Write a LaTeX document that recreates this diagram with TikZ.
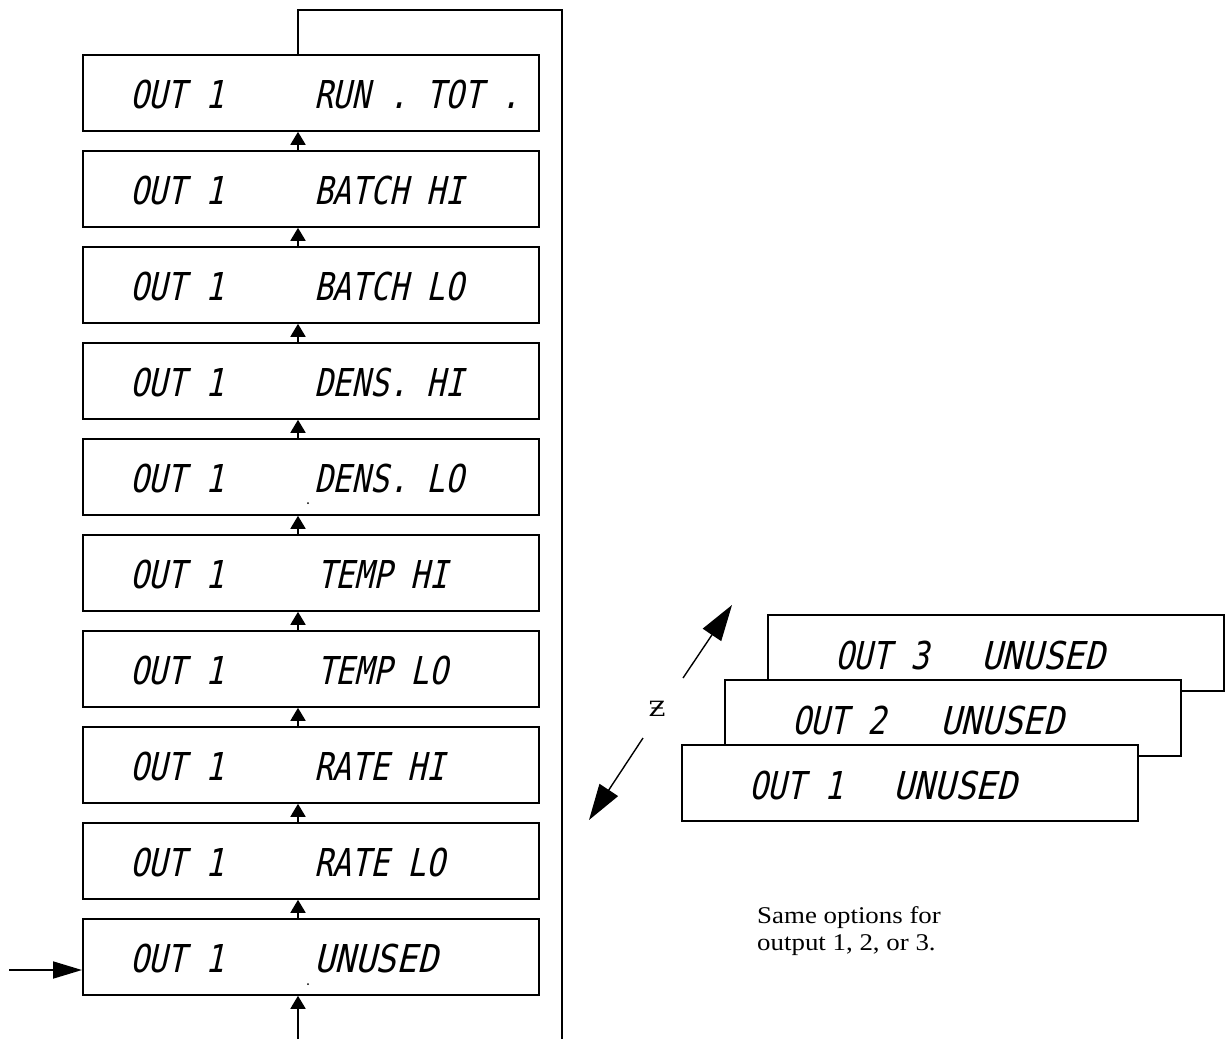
\documentclass[tikz,border=0pt]{standalone}
\usepackage{fontspec}
\setmainfont{Liberation Serif}
\newfontfamily\notefont[FakeStretch=1.12]{Liberation Serif}
\newfontfamily\lcd[FakeStretch=0.81,FakeSlant=0.22]{DejaVu Sans Mono}
\newfontfamily\zfont[FakeStretch=1.15]{DejaVu Serif}
\usetikzlibrary{arrows.meta}
\newcommand{\unusedtxt}{\scalebox{1.1}[1]{UNUSED}}
\begin{document}
\begin{tikzpicture}[x=1pt,y=-1pt,
  panel/.style={draw, line width=1.8pt, fill=white, minimum width=456pt, minimum height=76pt, inner sep=0pt, anchor=north west},
  lcdtxt/.style={anchor=base west, inner sep=0pt, font=\lcd\fontsize{38.4}{40}\selectfont},
  uparrow/.style={-{Triangle[width=15pt,length=13pt]}, line width=1.8pt},
  inarrow/.style={-{Triangle[width=17pt,length=29pt]}, line width=1.8pt},
  zarrow/.style={-{Triangle[width=22pt,length=36pt]}, line width=1.4pt},
  loopline/.style={line width=1.8pt}]
\useasboundingbox (0,0) rectangle (1225,1039);
\fill[white] (0,0) rectangle (1225,1039);

% left column of displays
\foreach \lab/\lx [count=\i from 0] in {RUN . TOT ./314,BATCH HI/314,BATCH LO/314,DENS. HI/314,DENS. LO/314,TEMP HI/317,TEMP LO/317,RATE HI/314,RATE LO/314,\unusedtxt/314} {
  \node[panel] (b\i) at (82,54+96*\i) {};
  \node[lcdtxt] (o\i) at (130,108+96*\i) {OUT 1};
  \node[lcdtxt] (l\i) at (\lx,108+96*\i) {\lab};
}

% connector coordinates
\coordinate (ax) at (298,0);
\coordinate (top) at (298,10);
\coordinate (rtop) at (562,10);
\coordinate (rbot) at (562,1039);
\coordinate (bin) at (298,1039);
\coordinate (lin) at (9,970);

\foreach \i [evaluate=\i as \j using int(\i-1)] in {1,...,9} {
  \draw[uparrow] (b\i.north -| ax) -- (b\j.south -| ax);
}
\draw[loopline] (b0.north -| ax) -- (top) -- (rtop) -- (rbot);
\draw[uparrow] (bin) -- (b9.south -| bin);
\draw[inarrow] (lin) -- (lin -| b9.west);

% tiny marks
\fill (308,503) circle (1pt);
\fill (308,984) circle (1pt);

% stacked displays
\node[panel] (s3) at (767,614) {};
\node[lcdtxt] (s3a) at (835,669) {OUT 3};
\node[lcdtxt] (s3b) at (981,669) {\unusedtxt};
\node[panel] (s2) at (724,679) {};
\node[lcdtxt] (s2a) at (792,734) {OUT 2};
\node[lcdtxt] (s2b) at (940,734) {\unusedtxt};
\node[panel] (s1) at (681,744) {};
\node[lcdtxt] (s1a) at (749,799) {OUT 1};
\node[lcdtxt] (s1b) at (893,799) {\unusedtxt};

% z arrows
\coordinate (zu0) at (683,678);
\coordinate (zu1) at (732,605);
\coordinate (zd0) at (643,738);
\coordinate (zd1) at (589,820);
\draw[zarrow] (zu0) -- (zu1);
\draw[zarrow] (zd0) -- (zd1);
\node[font=\zfont\fontsize{21}{21}\selectfont, inner sep=0pt] (zl) at (657,709) {Ƶ};

% note
\node[anchor=base west, inner sep=0pt, align=left, font=\notefont\fontsize{24}{27}\selectfont] (note) at (757,950) {Same options for\\output 1, 2, or 3.};
\end{tikzpicture}
\end{document}
